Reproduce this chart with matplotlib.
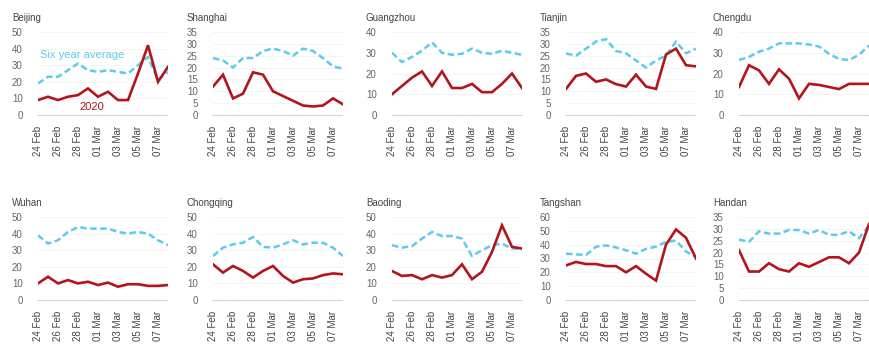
import matplotlib
matplotlib.use("Agg")
import matplotlib.pyplot as plt
import pandas as pd

plt.rcParams['font.family'] = ['Liberation Sans', 'DejaVu Sans']

dates = pd.date_range("2020-02-24", "2020-03-08", freq="D")

cities = ["Beijing", "Shanghai", "Guangzhou", "Tianjin", "Chengdu",
          "Wuhan", "Chongqing", "Baoding", "Tangshan", "Handan"]

# 2020 daily values
beijing_2020 = [9, 11, 9, 11, 12, 16, 11, 14, 9, 9, 25, 42, 20, 29]
shanghai_2020 = [12, 17, 7, 9, 18, 17, 10, 8, 6, 4, 3.6, 4, 7, 4.5]
guangzhou_2020 = [10, 14, 18, 21, 14, 21, 13, 13, 15, 11, 11, 15, 20, 13]
tianjin_2020 = [11, 16.5, 17.5, 14, 15, 13, 12, 17, 12, 11, 25.5, 28, 21, 20.5]
chengdu_2020 = [13.5, 24, 21.5, 15, 22, 17.5, 8, 15, 14.5, 13.5, 12.5, 15, 15, 15]
wuhan_2020 = [10, 14, 10, 12, 10, 11, 9, 10.5, 8, 9.5, 9.5, 8.5, 8.5, 9]
chongqing_2020 = [21.5, 16.5, 20.5, 17.5, 13.5, 17.5, 20.5, 14.5, 10.5, 12.5, 13, 15, 16, 15.5]
baoding_2020 = [17.5, 14.5, 15, 12.5, 15, 13.5, 15, 21.5, 12.5, 17, 29, 45, 32, 31]
tangshan_2020 = [25, 27.5, 26, 26, 24.5, 24.5, 20, 24.5, 19, 14, 40, 51, 45, 30]
handan_2020 = [21, 12, 12, 15.5, 13, 12, 15.5, 14, 16, 18, 18, 15.5, 20, 32]

# Six year average
beijing_avg = [19, 23, 23, 27, 31, 27, 26, 27, 26, 25, 30, 35, 21, 26]
shanghai_avg = [24, 23, 20, 24, 24, 27, 28, 27, 25, 28, 27, 24, 20.5, 19.5]
guangzhou_avg = [30, 25.5, 28, 31, 35, 30, 29, 29.5, 32, 30, 29.5, 31, 30, 29]
tianjin_avg = [26, 25, 28, 31, 32, 27, 26, 23, 20, 23, 25, 31, 26, 28]
chengdu_avg = [26.5, 28, 30.5, 32, 34.5, 34.5, 34.5, 34, 33, 29.5, 27, 26.5, 29, 33.5]
wuhan_avg = [39, 34, 36, 41, 44, 43, 43, 43, 41, 40, 41, 40, 36, 33]
chongqing_avg = [26.5, 31.5, 33.5, 34.5, 38, 32, 31.5, 33.5, 36, 33.5, 34.5, 34.5, 31.5, 26.5]
baoding_avg = [33, 31.5, 32.5, 37, 41, 38.5, 38.5, 37, 26.5, 30, 33, 34, 31, 31]
tangshan_avg = [33.5, 33, 32.5, 38.5, 39.5, 38, 36, 33.5, 37, 38.5, 42, 43, 35, 31]
handan_avg = [25.5, 24.5, 29, 28, 28, 29.5, 29.5, 28, 29.5, 27.5, 27.5, 29, 26, 31.5]

series_2020 = [beijing_2020, shanghai_2020, guangzhou_2020, tianjin_2020, chengdu_2020,
               wuhan_2020, chongqing_2020, baoding_2020, tangshan_2020, handan_2020]
series_avg = [beijing_avg, shanghai_avg, guangzhou_avg, tianjin_avg, chengdu_avg,
              wuhan_avg, chongqing_avg, baoding_avg, tangshan_avg, handan_avg]

y_max = [50, 35, 40, 35, 40, 50, 50, 50, 60, 35]
y_step = [10, 5, 10, 5, 10, 10, 10, 10, 10, 5]

RED = "#b3151c"
CYAN = "#5ccbee"

W, H = 870, 346
fig = plt.figure(figsize=(W / 100, H / 100), dpi=100)

col_left = [38, 213, 392, 566, 739]
row_top = [32, 217]
ax_w, ax_h = 130, 83

tick_dates = dates[::2]
tick_labels = [d.strftime("%d %b") for d in tick_dates]

for i, city in enumerate(cities):
    r, c = divmod(i, 5)
    left = col_left[c] / W
    bottom = (H - row_top[r] - ax_h) / H
    ax = fig.add_axes([left, bottom, ax_w / W, ax_h / H])

    ax.plot(dates, series_avg[i], color=CYAN, lw=1.8, dashes=(2.6, 1.4),
            solid_capstyle="butt", zorder=3)
    ax.plot(dates, series_2020[i], color=RED, lw=1.9, solid_joinstyle="miter", zorder=4)

    ax.set_xlim(dates[0], dates[-1])
    ax.set_ylim(0, y_max[i])
    ax.set_yticks(range(0, y_max[i] + 1, y_step[i]))
    ax.set_xticks(tick_dates)
    ax.set_xticklabels(tick_labels, rotation=90, fontsize=7, color="#444444")
    ax.tick_params(axis="y", length=0, pad=11, labelsize=7, labelcolor="#666666")
    ax.tick_params(axis="x", length=0, pad=8)
    for s in ["top", "right", "left"]:
        ax.spines[s].set_visible(False)
    ax.spines["bottom"].set_color("#cccccc")
    ax.spines["bottom"].set_linestyle((0, (1, 1.5)))
    ax.spines["bottom"].set_linewidth(0.8)
    ax.grid(axis="y", color="#f2f2f2", lw=0.6, zorder=0)
    ax.set_axisbelow(True)

    ax.annotate(city, xy=(0, 1), xycoords="axes fraction",
                xytext=(-26, 14), textcoords="offset pixels",
                ha="left", va="center", fontsize=7, color="#444444")

    if i == 0:
        ax.text(dates[0] + pd.Timedelta(hours=5), 36, "Six year average",
                color=CYAN, fontsize=8, ha="left", va="center", zorder=5)
        ax.text(dates[5] + pd.Timedelta(hours=8), 5, "2020",
                color=RED, fontsize=8, ha="center", va="center", zorder=5)

fig.savefig("out.png", dpi=100)
